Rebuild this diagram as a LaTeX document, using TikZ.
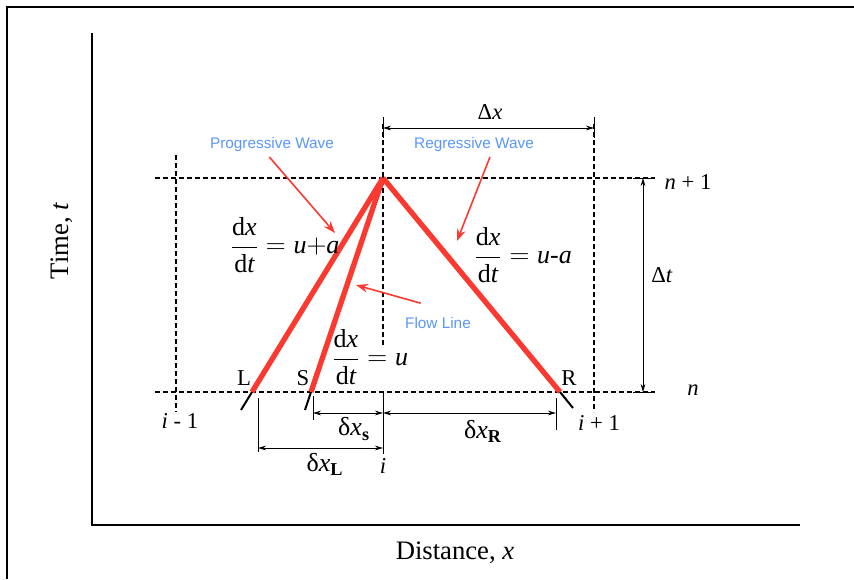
\documentclass[tikz,border=0pt]{standalone}
\usepackage{fontspec}
\setmainfont{Liberation Serif}
\newfontfamily\notefont{Liberation Sans}
\usetikzlibrary{positioning,arrows.meta}
\definecolor{wavered}{RGB}{250,58,48}
\definecolor{noteblue}{RGB}{90,150,250}
\newcommand{\dxdt}{\displaystyle\frac{\mathrm{d}\mathit{x}}{\mathrm{d}\mathit{t}}}
\begin{document}
\begin{tikzpicture}[x=0.75pt, y=-0.75pt, line width=0.6pt,
  grid/.style={dash pattern=on 4pt off 2pt, line width=0.9pt},
  char/.style={wavered, line width=4pt},
  tail/.style={line width=1.5pt},
  note/.style={noteblue, font=\notefont\fontsize{11.5}{13}\selectfont},
  pointer/.style={-{Stealth[length=9pt, width=6.5pt]}, wavered, line width=1.2pt},
  dim/.style={{Stealth[length=6pt, width=3.5pt]}-{Stealth[length=6pt, width=3.5pt]}, line width=0.7pt},
  lbl/.style={font=\fontsize{17}{19}\selectfont, inner sep=1pt},
  eqn/.style={font=\fontsize{19.5}{22}\selectfont, inner sep=1pt},
  axlbl/.style={font=\fontsize{20}{22}\selectfont}]
  \useasboundingbox (0,0) rectangle (854,579);
  \draw[line width=1.3pt] (7,579) -- (7,7) -- (854,7);
  \draw[line width=1.3pt] (92,33) -- (92,525) -- (800,525);
  \node[axlbl, rotate=90] (tname) at (62,241) {Time, \textit{t}};
  \node[axlbl] (xname) at (455,553) {Distance, \textit{x}};

  \draw[grid] (155,178) -- (655,178);
  \draw[grid] (155,392) -- (655,392);
  \draw[grid] (176,155) -- (176,412);
  \draw[grid] (383,124) -- (383,345);
  \draw[grid] (594,124) -- (594,412);

  \coordinate (apex) at (383,178);
  \coordinate (Lfoot) at (252,392);
  \coordinate (Sfoot) at (311,392);
  \coordinate (Rfoot) at (560,392);
  \coordinate (Ltail) at (241,410);
  \coordinate (Stail) at (305,410);
  \coordinate (Rtail) at (573,408);
  \draw[tail] (Lfoot) -- (Ltail);
  \draw[tail] (Sfoot) -- (Stail);
  \draw[tail] (Rfoot) -- (Rtail);
  \draw[char] (apex) -- (Lfoot);
  \draw[char] (apex) -- (Sfoot);
  \draw[char] (apex) -- (Rfoot);
  \node[lbl] (Lname) at (244,378) {L};
  \node[lbl] (Sname) at (303,378) {S};
  \node[lbl] (Rname) at (569,378) {R};

  \coordinate (dxa) at (383,128);
  \coordinate (dxb) at (594,128);
  \draw (383,117) -- (383,138);
  \draw (594,117) -- (594,138);
  \draw[dim] (dxa) -- (dxb);
  \node[lbl] (dxname) at (490,112) {Δ\textit{x}};

  \coordinate (dta) at (643,178);
  \coordinate (dtb) at (643,392);
  \draw (633,178) -- (653,178);
  \draw (633,392) -- (653,392);
  \draw[dim] (dta) -- (dtb);
  \node[lbl] (dtname) at (662,275) {Δ\textit{t}};
  \node[lbl] (nup) at (688,182) {\textit{n} + 1};
  \node[lbl] (nlow) at (693,390) {\textit{n}};

  \draw (383,392) -- (383,454);
  \draw (313,396) -- (313,420);
  \draw (556,398) -- (556,430);
  \draw (258,398) -- (258,452);
  \coordinate (sa) at (313,413);
  \coordinate (ia) at (383,413);
  \coordinate (ra) at (556,413);
  \coordinate (la) at (258,448);
  \coordinate (ib) at (383,448);
  \draw[dim] (sa) -- (ia);
  \draw[dim] (ia) -- (ra);
  \draw[dim] (la) -- (ib);
  \node[eqn] (dxS) at (354,429) {δ\textit{x}\textsubscript{\textbf{s}}};
  \node[eqn] (dxR) at (483,431) {δ\textit{x}\textsubscript{\textbf{R}}};
  \node[eqn] (dxL) at (325,464) {δ\textit{x}\textsubscript{\textbf{L}}};
  \node[lbl] (iname) at (383,466) {\textit{i}};
  \node[lbl] (imname) at (180,421) {\textit{i} - 1};
  \node[lbl] (ipname) at (599,423) {\textit{i} + 1};

  \node[eqn] (equpa) at (285,245) {$\dxdt = \mathit{u}{+}\mathit{a}$};
  \node[eqn] (equma) at (523,255) {$\dxdt = \mathit{u}\mbox{-}\mathit{a}$};
  \node[eqn] (equ) at (370,357) {$\dxdt = \mathit{u}$};

  \node[note] (prog) at (272,145) {Progressive Wave};
  \node[note] (regr) at (474,145) {Regressive Wave};
  \node[note] (flow) at (438,323) {Flow Line};
  \coordinate (progtip) at (335,233);
  \coordinate (regrtip) at (457,241);
  \coordinate (flowtip) at (356,285);
  \draw[pointer] ([xshift=-2pt]prog.south) -- (progtip);
  \draw[pointer] ([xshift=12pt]regr.south) -- (regrtip);
  \draw[pointer] ([xshift=-13pt,yshift=7pt]flow.north) -- (flowtip);
\end{tikzpicture}
\end{document}
